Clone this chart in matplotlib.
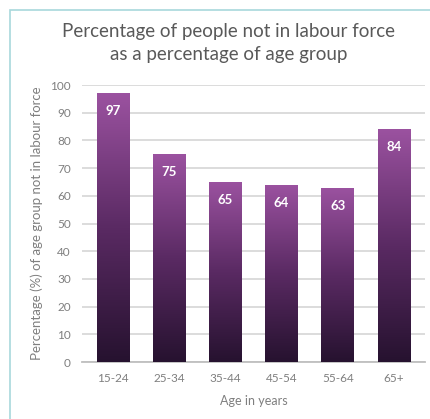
import numpy as np
import matplotlib.pyplot as plt
from matplotlib.patches import Rectangle
from matplotlib.colors import LinearSegmentedColormap

# data
ages = ['15-24', '25-34', '35-44', '45-54', '55-64', '65+']
pct_not_in_labour = [97, 75, 65, 64, 63, 84]
yticks = list(range(0, 101, 10))

plt.rcParams['font.family'] = ['Lato', 'DejaVu Sans']
grey = '#7f7f7f'

fig = plt.figure(figsize=(4.31, 4.19), dpi=100)
ax = fig.add_axes([0.19, 0.136, 0.796, 0.661])

# frame round the chart
fig.patches.append(Rectangle((0.024, -0.02), 1.0, 0.996, transform=fig.transFigure,
                             fill=False, edgecolor='#a8d8dc', linewidth=1.2))

cmap = LinearSegmentedColormap.from_list('purp', ['#26122f', '#5a2a63', '#9b52a0'])
grad = np.linspace(0, 1, 256).reshape(-1, 1)

bars = ax.bar(range(len(ages)), pct_not_in_labour, width=0.58, color='none', zorder=3)
for b, v in zip(bars, pct_not_in_labour):
    x0 = b.get_x()
    w = b.get_width()
    im = ax.imshow(grad, extent=[x0, x0 + w, 0, v], origin='lower', cmap=cmap,
                   aspect='auto', zorder=3)
    im.set_clip_path(b)
    ax.annotate(str(v), (x0 + w / 2, v), xytext=(0, -13), textcoords='offset points',
                ha='center', va='center', color='white', fontsize=9.5, fontweight='bold',
                zorder=4)

ax.set_xlim(-0.55, len(ages) - 0.45)
ax.set_ylim(0, 100)
ax.set_yticks(yticks)
ax.set_xticks(range(len(ages)))
ax.set_xticklabels(ages)
ax.grid(axis='y', color='#d9d9d9', linewidth=1.3, zorder=0)
ax.set_axisbelow(True)
for s in ['top', 'right', 'left']:
    ax.spines[s].set_visible(False)
ax.spines['bottom'].set_color('#bfbfbf')
ax.spines['bottom'].set_linewidth(1.3)
ax.tick_params(length=0, colors=grey, labelsize=8.5, pad=8)

ax.set_ylabel('Percentage (%) of age group not in labour force', color=grey, fontsize=9.5, labelpad=5)
ax.set_xlabel('Age in years', color=grey, fontsize=9, labelpad=8)
fig.suptitle('Percentage of people not in labour force\nas a percentage of age group',
             color='#595959', fontsize=13.5, x=0.53, y=0.945, linespacing=1.45)

fig.savefig('out.png', dpi=100, facecolor='white')
